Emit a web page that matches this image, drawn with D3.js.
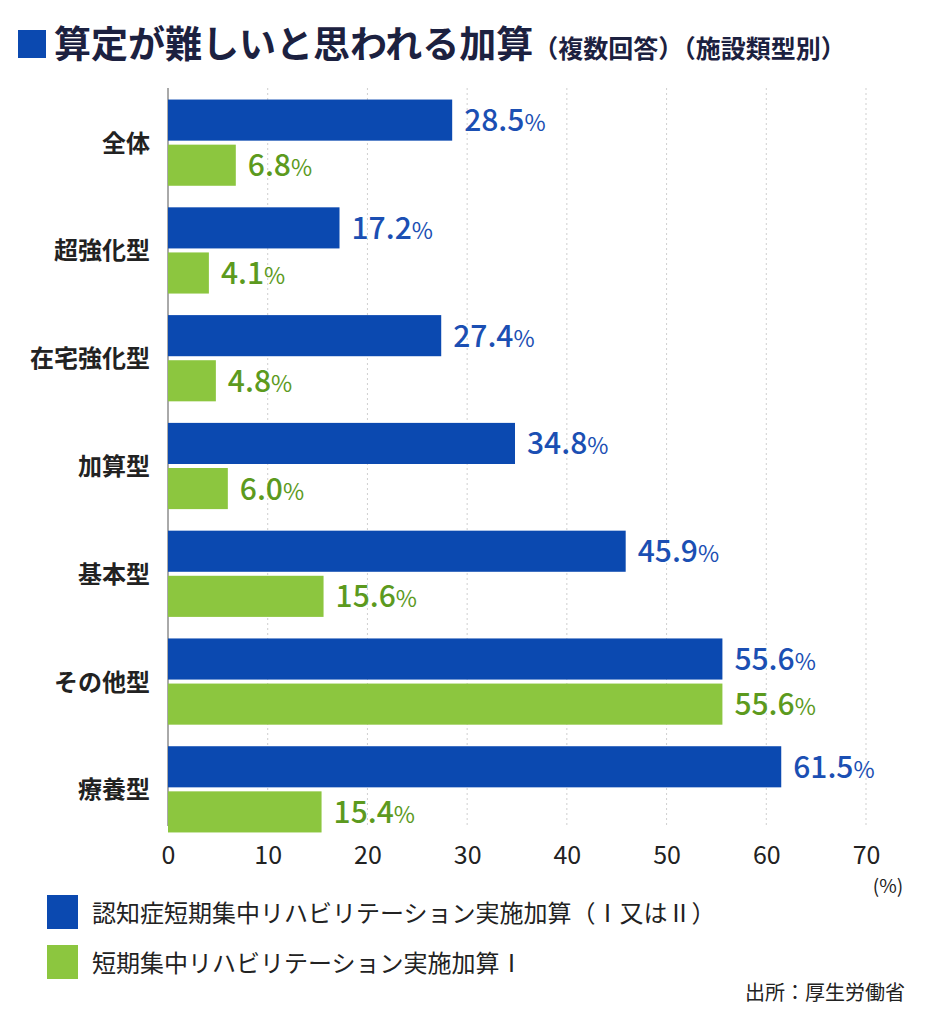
<!DOCTYPE html>
<meta charset="utf-8">
<style>
  body { margin: 0; background: #fff; }
  text { font-family: "Noto Sans CJK JP", "Noto Sans", sans-serif; }
</style>
<script src="https://d3js.org/d3.v7.min.js"></script>
<div id="chart"></div>
<script>
var categories = ["全体", "超強化型", "在宅強化型", "加算型", "基本型", "その他型", "療養型"];
var ninchi = [28.5, 17.2, 27.4, 34.8, 45.9, 55.6, 61.5];
var tanki = [6.8, 4.1, 4.8, 6.0, 15.6, 55.6, 15.4];
var ticks = [0, 10, 20, 30, 40, 50, 60, 70];
var seriesNames = ["認知症短期集中リハビリテーション実施加算（Ⅰ又はⅡ）", "短期集中リハビリテーション実施加算Ⅰ"];

var blue = "#0b49b0", green = "#8cc63f";
var blueText = "#1b4fb3", greenText = "#5c9a1e";

var svg = d3.select("#chart").append("svg").attr("width", 930).attr("height", 1024);

// title
svg.append("rect").attr("x", 18).attr("y", 30).attr("width", 28).attr("height", 28).attr("fill", blue);
var title = svg.append("text").attr("x", 54).attr("y", 58).attr("fill", "#1c2140");
title.append("tspan").attr("font-size", 37).attr("font-weight", "bold").text("算定が難しいと思われる加算");
title.append("tspan").attr("font-size", 25).attr("font-weight", "bold").text("（複数回答）（施設類型別）");

var x = d3.scaleLinear().domain([0, 70]).range([168, 866]);
var y = d3.scaleBand().domain(categories).range([92, 840]).paddingInner(0.2).paddingOuter(0.07);

// grid
svg.append("g").selectAll("line").data(ticks.slice(1)).join("line")
  .attr("x1", d => x(d)).attr("x2", d => x(d))
  .attr("y1", 88).attr("y2", 826)
  .attr("stroke", "#cfcfcf").attr("stroke-dasharray", "2,3");
svg.append("line").attr("x1", x(0)).attr("x2", x(0)).attr("y1", 88).attr("y2", 826)
  .attr("stroke", "#555").attr("stroke-width", 1);

// axis
var ax = svg.append("g").attr("transform", "translate(0,826)")
  .call(d3.axisBottom(x).tickValues(ticks).tickSize(0).tickPadding(20));
ax.select(".domain").remove();
ax.selectAll("text").attr("font-size", 25).attr("fill", "#222")
  .attr("font-family", "'Noto Sans', sans-serif");
svg.append("text").attr("x", 888).attr("y", 893).attr("text-anchor", "middle")
  .attr("font-size", 19).attr("fill", "#222").text("(%)");

var bh = y.bandwidth() / 2 - 2;
var g = svg.append("g").selectAll("g").data(categories).join("g");
g.append("text").attr("x", 150).attr("y", d => y(d) + y.bandwidth() / 2 + 9)
  .attr("text-anchor", "end").attr("font-size", 24).attr("font-weight", "bold").attr("fill", "#222")
  .text(d => d);

function series(vals, off, col, tcol) {
  g.append("rect").attr("x", x(0)).attr("y", (d, i) => y(d) + off)
    .attr("width", (d, i) => x(vals[i]) - x(0)).attr("height", bh).attr("fill", col);
  var t = g.append("text").attr("x", (d, i) => x(vals[i]) + 12)
    .attr("y", (d, i) => y(d) + off + bh / 2 + 11).attr("fill", tcol)
    .attr("font-family", "'Noto Sans', sans-serif");
  t.append("tspan").attr("font-size", 30).attr("font-weight", "500").text((d, i) => vals[i].toFixed(1));
  t.append("tspan").attr("font-size", 23).text("%");
}
series(ninchi, 0, blue, blueText);
series(tanki, bh + 4, green, greenText);

// legend
[blue, green].forEach(function (c, i) {
  svg.append("rect").attr("x", 47).attr("y", 895 + i * 50).attr("width", 31).attr("height", 34).attr("fill", c);
  svg.append("text").attr("x", 92).attr("y", 922 + i * 50).attr("font-size", 24).attr("fill", "#222")
    .text(seriesNames[i]);
});
svg.append("text").attr("x", 905).attr("y", 1000).attr("text-anchor", "end")
  .attr("font-size", 20).attr("fill", "#222").text("出所：厚生労働省");
</script>
